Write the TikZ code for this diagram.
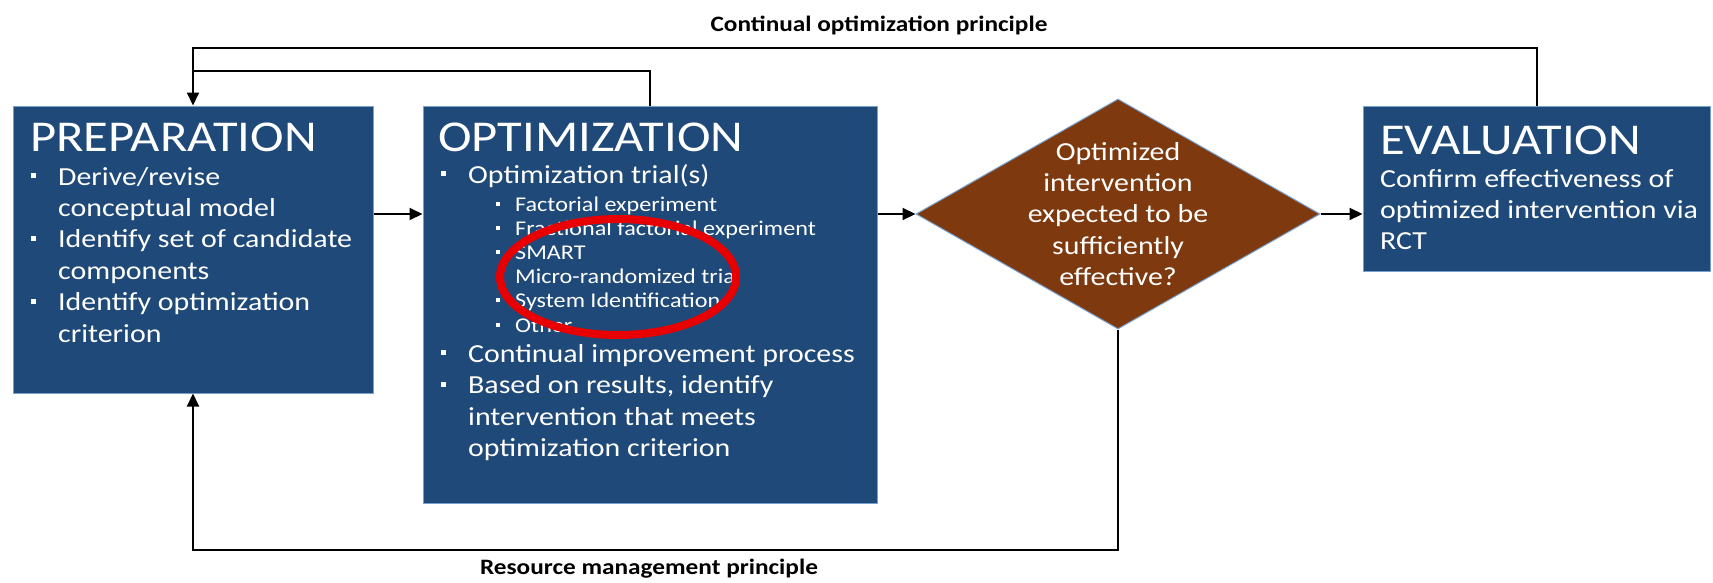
\documentclass[tikz,border=0pt]{standalone}
\usepackage{fontspec}
\setmainfont{Carlito}[FakeStretch=1.15]
\usetikzlibrary{shapes.geometric,arrows.meta}

\definecolor{boxblue}{RGB}{31,73,120}
\definecolor{boxedge}{RGB}{120,160,205}
\definecolor{decbrown}{RGB}{126,57,14}
\definecolor{markred}{RGB}{232,0,0}

% bullet items with hanging indent; lines are broken by hand with \newline
\newcommand\mainitem[1]{\par\hangindent=28pt\hangafter=1\noindent
  \makebox[28pt][l]{\hspace{1pt}\raisebox{7pt}{\rule{5pt}{5pt}}}#1\par}
\newcommand\minoritem[1]{\par\hangindent=75pt\hangafter=1\noindent
  \hspace{56pt}\makebox[19pt][l]{\raisebox{5.5pt}{\rule{4pt}{4pt}}}#1\par}

\tikzset{
  stage/.style={draw=boxedge, line width=1pt, fill=boxblue, rectangle, inner sep=0pt},
  decision/.style={draw=boxedge, line width=1pt, fill=decbrown, diamond, inner sep=0pt},
  stagetitle/.style={anchor=base west, inner sep=0pt, text=white, font=\fontsize{44}{50}\selectfont},
  stagebody/.style={anchor=base west, inner sep=0pt, text=white, font=\fontsize{26}{31.4}\selectfont},
  decisiontext/.style={inner sep=0pt, text=white, align=center, font=\fontsize{26}{31.4}\selectfont},
  principle/.style={inner sep=0pt, text=black, font=\bfseries\fontsize{22}{26}\selectfont},
  flow/.style={line width=2pt, -{Triangle[length=13pt,width=12pt]}},
  link/.style={line width=2pt},
}

\begin{document}
\begin{tikzpicture}[x=1pt, y=-1pt]
\useasboundingbox (0,0) rectangle (1713,582);
\fill[white] (0,0) rectangle (1713,582);

% stages
\node[stage, minimum width=360pt, minimum height=287pt] (prep) at (193,249.5) {};
\node[stage, minimum width=454pt, minimum height=397pt] (opt) at (650,304.5) {};
\node[decision, minimum width=404pt, minimum height=230pt] (dia) at (1118,214) {};
\node[stage, minimum width=347pt, minimum height=165pt] (eval) at (1536.5,188.5) {};

% preparation text
\node[stagetitle] (prep-title) at (30,151) {PREPARATION};
\node[stagebody] (prep-body) at (30,185) {\parbox[t]{340pt}{\raggedright
  \mainitem{Derive/revise\newline conceptual model}
  \mainitem{Identify set of candidate\newline components}
  \mainitem{Identify optimization\newline criterion}}};

% optimization text
\node[stagetitle] (opt-title) at (438,151) {OPTIMIZATION};
\node[stagebody] (opt-body) at (440,183) {\parbox[t]{430pt}{\raggedright
  \mainitem{Optimization trial(s)}
  \vspace{3.8pt}
  {\fontsize{21}{24.2}\selectfont
  \minoritem{Factorial experiment}
  \minoritem{Fractional factorial experiment}
  \minoritem{SMART}
  \minoritem{Micro-randomized trial}
  \minoritem{System Identification}
  \minoritem{Other}\par}
  \vspace{-1pt}
  \mainitem{Continual improvement process}
  \mainitem{Based on results, identify\newline intervention that meets\newline optimization criterion}}};

% decision text
\node[decisiontext] (dia-text) at (dia.center) {Optimized\\intervention\\expected to be\\sufficiently\\effective?};

% evaluation text
\node[stagetitle] (eval-title) at (1380,154) {EVALUATION};
\node[stagebody] (eval-body) at (1380,187) {\parbox[t]{330pt}{\raggedright
  Confirm effectiveness of\newline optimized intervention via\newline RCT}};

% main flow
\draw[flow] (prep.east |- dia.center) -- (opt.west |- dia.center);
\draw[flow] (opt.east |- dia.center) -- (dia.west);
\draw[flow] (dia.east) -- (eval.west |- dia.center);

% feedback loops
\coordinate (outer) at (0,48);
\coordinate (inner) at (0,71);
\coordinate (lower) at (0,550);
\draw[flow] (eval.north) -- (eval.north |- outer) -| (prep.north);
\draw[link] (opt.north) -- (opt.north |- inner) -- (prep.north |- inner);
\draw[flow] (dia.south) -- (dia.south |- lower) -| (prep.south);

\node[principle] (cont-label) at (879,25) {Continual optimization principle};
\node[principle] (res-label) at (649,569) {Resource management principle};

% highlight ring
\draw[markred, line width=8pt] (618,277) ellipse [x radius=118, y radius=58];
\end{tikzpicture}
\end{document}
